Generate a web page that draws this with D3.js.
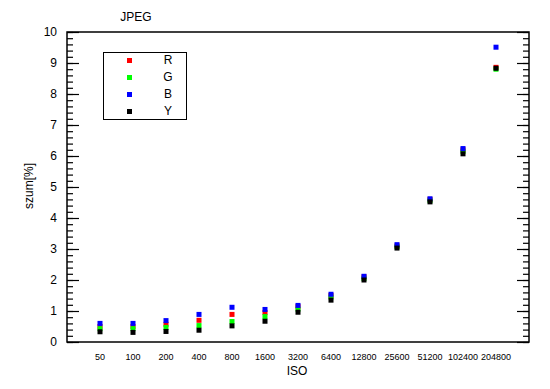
<!DOCTYPE html>
<html>
<head>
<meta charset="utf-8">
<script src="https://cdn.jsdelivr.net/npm/d3@7"></script>
<style>
  body { margin: 0; background: #fff; }
  svg text { font-family: "Liberation Sans", Arial, sans-serif; fill: #000; }
  .ytick { font-size: 12px; }
  .xtick { font-size: 9px; }
  .title { font-size: 12px; }
  .axlabel { font-size: 12px; }
</style>
</head>
<body>
<div id="chart"></div>
<script>
var isoLabels = ["50", "100", "200", "400", "800", "1600", "3200", "6400", "12800", "25600", "51200", "102400", "204800"];
var valuesR = [0.50, 0.50, 0.57, 0.70, 0.89, 0.95, 1.14, 1.50, 2.10, 3.10, 4.60, 6.20, 8.86];
var valuesG = [0.43, 0.43, 0.47, 0.53, 0.66, 0.82, 1.06, 1.45, 2.05, 3.07, 4.56, 6.15, 8.80];
var valuesB = [0.60, 0.60, 0.69, 0.89, 1.12, 1.05, 1.18, 1.54, 2.12, 3.14, 4.62, 6.24, 9.51];
var valuesY = [0.33, 0.31, 0.34, 0.38, 0.52, 0.67, 0.96, 1.35, 2.00, 3.03, 4.52, 6.07, 8.83];
var yTicks = [0, 1, 2, 3, 4, 5, 6, 7, 8, 9, 10];

var series = [
  { name: "R", color: "#ff0000", values: valuesR },
  { name: "G", color: "#00ff00", values: valuesG },
  { name: "B", color: "#0000ff", values: valuesB },
  { name: "Y", color: "#000000", values: valuesY }
];

var width = 550, height = 389;
var plotLeft = 67, plotRight = 529, plotTop = 32, plotBottom = 342;
var markSize = 5;

var svg = d3.select("#chart").append("svg")
    .attr("width", width)
    .attr("height", height);

var x = d3.scaleLinear()
    .domain([0, isoLabels.length + 1])
    .range([plotLeft, plotRight]);

var y = d3.scaleLinear()
    .domain([0, 10])
    .range([plotBottom, plotTop]);

// minor ticks every 0.2
var minor = d3.range(0, 10.01, 0.2).map(function(v) { return Math.round(v * 10) / 10; });

// left axis: ticks pointing inward
svg.append("g")
    .attr("transform", "translate(" + plotLeft + ",0)")
    .call(d3.axisRight(y).tickValues(minor).tickSize(6).tickFormat(""))
    .call(function(g) { g.select(".domain").remove(); });
svg.append("g")
    .attr("transform", "translate(" + plotLeft + ",0)")
    .call(d3.axisRight(y).tickValues(yTicks).tickSize(12).tickFormat(""))
    .call(function(g) { g.select(".domain").remove(); });

// right axis: ticks pointing inward
svg.append("g")
    .attr("transform", "translate(" + plotRight + ",0)")
    .call(d3.axisLeft(y).tickValues(minor).tickSize(6).tickFormat(""))
    .call(function(g) { g.select(".domain").remove(); });
svg.append("g")
    .attr("transform", "translate(" + plotRight + ",0)")
    .call(d3.axisLeft(y).tickValues(yTicks).tickSize(12).tickFormat(""))
    .call(function(g) { g.select(".domain").remove(); });

svg.selectAll(".tick line").attr("stroke", "#000").attr("stroke-width", 1.2);

// frame
svg.append("rect")
    .attr("x", plotLeft)
    .attr("y", plotTop)
    .attr("width", plotRight - plotLeft)
    .attr("height", plotBottom - plotTop)
    .attr("fill", "none")
    .attr("stroke", "#000")
    .attr("stroke-width", 1.5);

// y tick labels
svg.selectAll(".ytick")
    .data(yTicks)
    .enter().append("text")
    .attr("class", "ytick")
    .attr("x", plotLeft - 10)
    .attr("y", function(d) { return y(d); })
    .attr("dy", "0.35em")
    .attr("text-anchor", "end")
    .text(function(d) { return d; });

// x tick labels
svg.selectAll(".xtick")
    .data(isoLabels)
    .enter().append("text")
    .attr("class", "xtick")
    .attr("x", function(d, i) { return x(i + 1); })
    .attr("y", 357)
    .attr("dy", "0.35em")
    .attr("text-anchor", "middle")
    .text(function(d) { return d; });

// titles
svg.append("text")
    .attr("class", "title")
    .attr("x", 136)
    .attr("y", 21)
    .attr("text-anchor", "middle")
    .text("JPEG");

svg.append("text")
    .attr("class", "axlabel")
    .attr("x", 297)
    .attr("y", 375)
    .attr("text-anchor", "middle")
    .text("ISO");

svg.append("text")
    .attr("class", "axlabel")
    .attr("transform", "translate(33,186) rotate(-90)")
    .attr("text-anchor", "middle")
    .text("szum[%]");

// data markers
series.forEach(function(s) {
  svg.append("g").selectAll("rect")
      .data(s.values)
      .enter().append("rect")
      .attr("x", function(d, i) { return x(i + 1) - markSize / 2; })
      .attr("y", function(d) { return y(d) - markSize / 2; })
      .attr("width", markSize)
      .attr("height", markSize)
      .attr("fill", s.color);
});

// legend
var legend = svg.append("g");
legend.append("rect")
    .attr("x", 103.5)
    .attr("y", 52.5)
    .attr("width", 83)
    .attr("height", 67)
    .attr("fill", "#fff")
    .attr("stroke", "#000")
    .attr("stroke-width", 1);

var item = legend.selectAll(".item")
    .data(series)
    .enter().append("g")
    .attr("transform", function(d, i) { return "translate(0," + (60 + i * 17) + ")"; });

item.append("rect")
    .attr("x", 127)
    .attr("y", -2)
    .attr("width", 5)
    .attr("height", 5)
    .attr("fill", function(d) { return d.color; });

item.append("text")
    .attr("x", 168)
    .attr("y", 0)
    .attr("dy", "0.35em")
    .attr("text-anchor", "middle")
    .style("font-size", "12px")
    .text(function(d) { return d.name; });
</script>
</body>
</html>
